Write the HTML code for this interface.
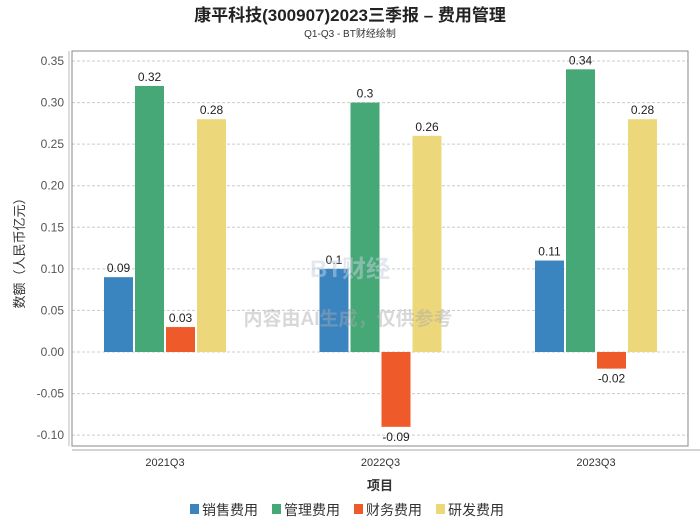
<!DOCTYPE html>
<html><head><meta charset="utf-8"><style>
body{margin:0;background:#fff;font-family:"Liberation Sans","Noto Sans CJK SC",sans-serif;}
svg text{font-family:"Liberation Sans","Noto Sans CJK SC",sans-serif;}
</style></head><body>
<svg id="c" width="700" height="524" xmlns="http://www.w3.org/2000/svg">
<text x="350" y="21" text-anchor="middle" font-size="17" font-weight="bold" fill="#222">康平科技(300907)2023三季报 – 费用管理</text>
<text x="350" y="37" text-anchor="middle" font-size="10" fill="#333">Q1-Q3 - BT财经绘制</text>
<g id="grid"></g><g id="bars"></g>
<text x="350" y="277" text-anchor="middle" font-size="24" font-weight="bold" fill="#c8d0e0" opacity="0.5">BT财经</text>
<text x="348" y="325" text-anchor="middle" font-size="19" font-weight="bold" fill="#aaa" opacity="0.45">内容由AI生成，仅供参考</text>
<rect x="72" y="51" width="616" height="395" fill="none" stroke="#888" stroke-width="1"/>
<line x1="72" y1="450" x2="700" y2="450" stroke="#aaa"/>
<line x1="69" y1="51" x2="69" y2="446" stroke="#bbb"/>
<text x="380" y="490" text-anchor="middle" font-size="13" font-weight="bold" fill="#333">项目</text>
<text transform="translate(24,250) rotate(-90)" text-anchor="middle" font-size="13" fill="#333">数额（人民币亿元）</text>
<g id="legend"></g>
</svg>
<script>
const categories=["2021Q3","2022Q3","2023Q3"];
const seriesNames=["销售费用","管理费用","财务费用","研发费用"];
const sales=[0.09,0.1,0.11];
const admin=[0.32,0.3,0.34];
const finance=[0.03,-0.09,-0.02];
const rnd=[0.28,0.26,0.28];
const yTicks=[0.35,0.30,0.25,0.20,0.15,0.10,0.05,0.00,-0.05,-0.10];
const colors=["#3a85c0","#45a876","#ef5a2a","#ecd87a"];
const NS="http://www.w3.org/2000/svg";
const y=v=>352-v*831.4;
const xc=i=>165+i*215.5;
function el(t,a,p){const e=document.createElementNS(NS,t);for(const k in a)e.setAttribute(k,a[k]);p.appendChild(e);return e;}
const g=document.getElementById('grid');
yTicks.forEach(t=>{
 const l=el('line',{x1:72,x2:688,y1:y(t),y2:y(t),stroke:'#ccc','stroke-dasharray':'3,2'},g);
 
 
 const tx=el('text',{x:64,y:y(t)+4,'text-anchor':'end','font-size':12,fill:'#555'},g);
 tx.textContent=t.toFixed(2);
 
 
});
const b=document.getElementById('bars');
const series=[sales,admin,finance,rnd];
categories.forEach((c,i)=>{
 const tx=el('text',{x:xc(i),y:466,'text-anchor':'middle','font-size':11,fill:'#333'},b);
 tx.textContent=c;
 
 
 series.forEach((s,j)=>{
  const v=s[i];const x0=xc(i)-61+j*31;
  const top=Math.min(y(v),y(0)),h=Math.abs(y(v)-y(0));
  const r=el('rect',{x:x0,y:top,width:29,height:h,fill:colors[j]},b);
  
  
  const lt=el('text',{x:x0+14.5,y:v>=0?top-5:top+h+14,'text-anchor':'middle','font-size':12,fill:'#222'},b);
  lt.textContent=String(v);
  
  
 });
});
const lg=document.getElementById('legend');
let lx=190;
seriesNames.forEach((n,j)=>{
 const r=el('rect',{x:lx,y:504,width:9,height:10,fill:colors[j]},lg);
 
 
 const t=el('text',{x:lx+12,y:515,'font-size':14,fill:'#333'},lg);
 t.textContent=n;
 
 
 lx+=82;
});
</script>
</body></html>
